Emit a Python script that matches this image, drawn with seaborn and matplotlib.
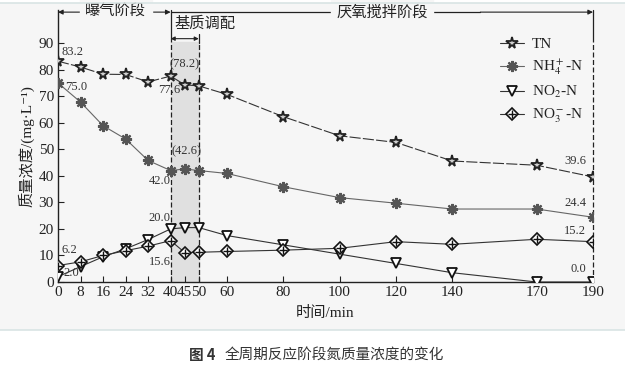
import numpy as np
import pandas as pd
import seaborn as sns
import matplotlib.pyplot as plt
from matplotlib.lines import Line2D
from matplotlib.patches import Rectangle

# time points (min) and concentrations (mg/L)
time = [0, 8, 16, 24, 32, 40, 45, 50, 60, 80, 100, 120, 140, 170, 190]
tn = [83.2, 81.0, 78.3, 78.2, 75.4, 77.6, 74.3, 73.9, 70.7, 62.3, 55.1, 52.6, 45.6, 44.0, 39.6]
nh4 = [75.0, 67.8, 58.9, 53.9, 45.8, 42.0, 42.6, 42.0, 40.9, 35.9, 31.8, 29.7, 27.5, 27.5, 24.4]
no2 = [2.0, 5.8, 9.5, 12.5, 16.0, 20.0, 20.5, 20.5, 17.5, 14.0, 10.5, 7.0, 3.5, 0.0, 0.0]
no3 = [6.2, 7.6, 10.0, 11.8, 13.5, 15.6, 11.1, 11.2, 11.5, 12.0, 12.7, 15.2, 14.2, 16.1, 15.2]
xticks = [0, 8, 16, 24, 32, 40, 45, 50, 60, 80, 100, 120, 140, 170, 190]

sns.set_theme(style='white')
plt.rcParams['font.family'] = ['Liberation Serif', 'Noto Sans CJK SC', 'DejaVu Sans']
plt.rcParams['mathtext.fontset'] = 'stix'
plt.rcParams['axes.unicode_minus'] = False

fig = plt.figure(figsize=(6.25, 3.67), dpi=100, facecolor='white')
# light panel behind the chart
fig.patches.append(Rectangle((0, 37 / 367), 1, 1 - 40 / 367, transform=fig.transFigure,
                             fc='#f6f6f6', ec='none', zorder=-10))
fig.add_artist(Line2D([0, 1], [37 / 367, 37 / 367], transform=fig.transFigure, color='#d9e4e4', lw=1.2))
fig.add_artist(Line2D([0, 1], [1 - 3 / 367, 1 - 3 / 367], transform=fig.transFigure, color='#d9e4e4', lw=1.2))

ax = fig.add_axes([58 / 625, 1 - 282 / 367, 535 / 625, 272 / 367])
ax.set_facecolor('none')

df = pd.DataFrame({'time': time, 'TN': tn, 'NH4': nh4, 'NO2': no2, 'NO3': no3})

# shaded matrix-adjust period
ax.axvspan(40, 50, ymin=0, ymax=90.5 / 102.5, color='#e0e0e0', zorder=0)

sns.lineplot(data=df, x='time', y='TN', ax=ax, color='#333333', lw=0.8, ls=(0, (10, 2)),
             marker='*', markersize=8.5, markerfacecolor='#cfcfcf', markeredgecolor='#222222',
             markeredgewidth=1.3, zorder=5)
sns.lineplot(data=df, x='time', y='NH4', ax=ax, color='#666666', lw=0.8,
             marker=(8, 2, 0), markersize=8, markeredgecolor='#555555', markeredgewidth=1.6, zorder=5)
sns.lineplot(data=df, x='time', y='NO2', ax=ax, color='#333333', lw=0.8,
             marker='v', markersize=7, markerfacecolor='white', markeredgecolor='#111111',
             markeredgewidth=1.3, zorder=5)
sns.lineplot(data=df, x='time', y='NO3', ax=ax, color='#333333', lw=0.8,
             marker='D', markersize=6, markerfacecolor='white', markeredgecolor='#111111',
             markeredgewidth=1.2, zorder=5)
ax.plot(df['time'], df['NO3'], ls='none', marker='+', markersize=6, mec='#111111', mew=1.0, zorder=6)

ax.set_xlim(0, 190)
ax.set_ylim(0, 102.5)
ax.set_xticks(xticks)
ax.set_yticks(np.arange(0, 100, 10))
ax.tick_params(direction='in', length=4, width=0.8, labelsize=11, colors='#222222', pad=3,
               bottom=True, left=True)
for s in ['top', 'right']:
    ax.spines[s].set_visible(False)
for s in ['left', 'bottom']:
    ax.spines[s].set_color('#222222')
    ax.spines[s].set_linewidth(1.0)
ax.set_xlabel('时间/min', fontsize=11, color='#222222', labelpad=5)
ax.set_ylabel('质量浓度/(mg·L⁻¹)', fontsize=11, color='#222222', labelpad=3)

# stage boundaries
kw = dict(color='#222222', lw=0.9, clip_on=False)
ax.plot([40, 40], [91.7, 102.5], **kw)
ax.plot([40, 40], [0, 91.7], ls=(0, (4, 2)), **kw)
ax.plot([50, 50], [90, 93.5], **kw)
ax.plot([50, 50], [0, 90], ls=(0, (4, 2)), **kw)
ax.plot([190, 190], [91, 102.5], **kw)
ax.plot([190, 190], [0, 91], ls=(0, (4, 2)), **kw)

arr = dict(arrowstyle='-|>', color='#222222', lw=0.8, mutation_scale=7, shrinkA=0, shrinkB=0)
ax.annotate('', xy=(0, 101.7), xytext=(20, 101.7), arrowprops=arr, annotation_clip=False)
ax.annotate('', xy=(40, 101.7), xytext=(32, 101.7), arrowprops=arr, annotation_clip=False)
ax.plot([20, 32], [101.7, 101.7], **kw)
ax.text(20.5, 101.7, '曝气阶段', ha='center', va='center', fontsize=11,
        color='#222222', backgroundcolor='#f6f6f6', zorder=7)
ax.annotate('', xy=(190, 101.7), xytext=(150, 101.7), arrowprops=arr, annotation_clip=False)
ax.plot([40, 150], [101.7, 101.7], **kw)
ax.text(115, 101.7, '厌氧搅拌阶段', ha='center', va='center', fontsize=11,
        color='#222222', backgroundcolor='#f6f6f6', zorder=7)
ax.annotate('', xy=(40, 91.7), xytext=(50, 91.7),
            arrowprops=dict(arrowstyle='<|-|>', color='#222222', lw=0.8, mutation_scale=6,
                            shrinkA=0, shrinkB=0), annotation_clip=False)
ax.text(41.5, 97.3, '基质调配', ha='left', va='center', fontsize=11, color='#222222')

# value labels
lab = dict(fontsize=9, color='#333333', zorder=8)
ax.text(1.4, 86.6, '83.2', ha='left', va='center', **lab)
ax.text(2.5, 73.3, '75.0', ha='left', va='center', **lab)
ax.text(1.3, 12.0, '6.2', ha='left', va='center', **lab)
ax.text(1.9, 3.3, '2.0', ha='left', va='center', **lab)
ax.text(45, 82.2, '(78.2)', ha='center', va='center', **lab)
ax.text(43.3, 72.3, '77.6', ha='right', va='center', **lab)
ax.text(45.5, 49.1, '(42.6)', ha='center', va='center', **lab)
ax.text(40, 38.0, '42.0', ha='right', va='center', **lab)
ax.text(40, 24.0, '20.0', ha='right', va='center', **lab)
ax.text(40, 7.6, '15.6', ha='right', va='center', **lab)
ax.text(187.5, 45.6, '39.6', ha='right', va='center', **lab)
ax.text(187.5, 29.6, '24.4', ha='right', va='center', **lab)
ax.text(187.5, 19.2, '15.2', ha='right', va='center', **lab)
ax.text(187.5, 4.9, '0.0', ha='right', va='center', **lab)

# legend
h_tn = Line2D([], [], color='#333333', lw=0.8, marker='*', markersize=8.5, mfc='#cfcfcf',
              mec='#222222', mew=1.3)
h_nh = Line2D([], [], color='#666666', lw=0.8, marker=(8, 2, 0), markersize=8, mec='#555555', mew=1.6)
h_no2 = Line2D([], [], color='#333333', lw=0.8, marker='v', markersize=7, mfc='white',
               mec='#111111', mew=1.3)
h_d = Line2D([], [], color='#333333', lw=0.8, marker='D', markersize=6, mfc='white',
             mec='#111111', mew=1.2)
h_p = Line2D([], [], ls='none', marker='+', markersize=6, mec='#111111', mew=1.0)
ax.legend([h_tn, h_nh, h_no2, (h_d, h_p)],
          ['TN', r'NH$_4^+$-N', r'NO$_2$-N', r'NO$_3^-$-N'],
          loc='upper left', bbox_to_anchor=(0.8, 0.95), frameon=False, fontsize=11,
          handlelength=1.6, handletextpad=0.5, labelspacing=0.45, labelcolor='#222222')

fig.text(0.302, 12 / 367, '图 4', ha='left', va='center', fontsize=10.5, fontweight='bold',
         color='#333333', family=['Noto Sans CJK SC'])
fig.text(0.36, 12 / 367, '全周期反应阶段氮质量浓度的变化', ha='left', va='center',
         fontsize=10.5, color='#333333', family=['Noto Sans CJK SC'])

fig.savefig('out.png', dpi=100, facecolor=fig.get_facecolor())
